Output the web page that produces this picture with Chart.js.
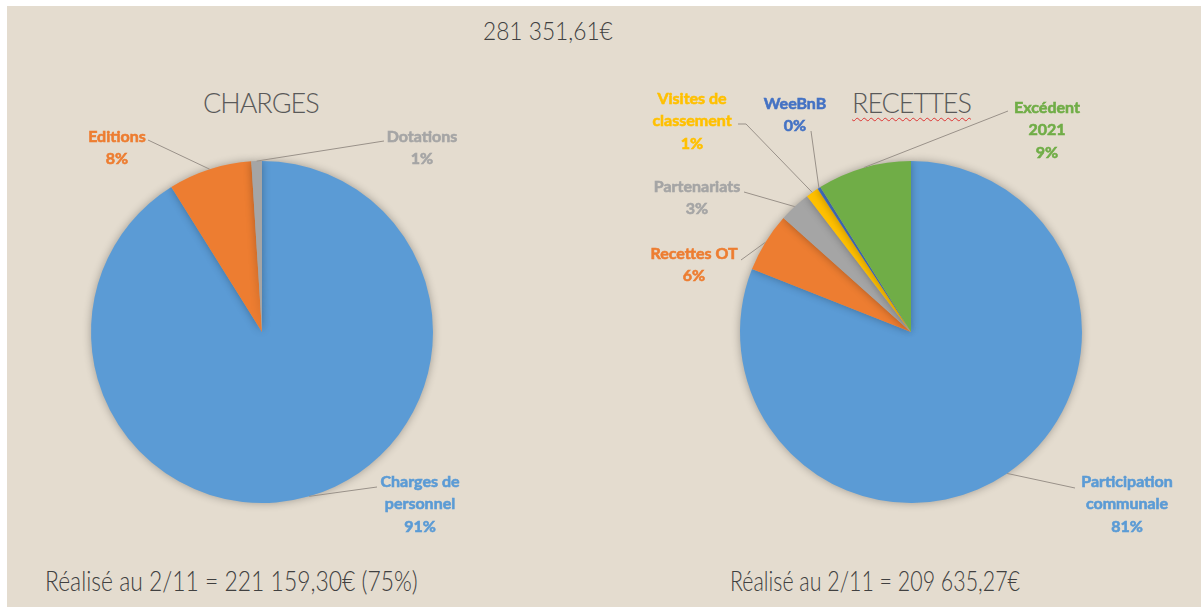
<!DOCTYPE html>
<html>
<head>
<meta charset="utf-8">
<script src="https://cdn.jsdelivr.net/npm/chart.js@4"></script>
<style>
  body { margin: 0; background: #fff; width: 1203px; height: 607px; overflow: hidden; }
  #page { position: absolute; left: 7px; top: 6px; width: 1194px; height: 601px; background: #e4dccf; }
  .txt { position: absolute; color: #404040; font-family: "Lato", "Open Sans", sans-serif; font-weight: 300; white-space: nowrap; transform-origin: left top; }
  .title { font-size: 27px; color: #595959; letter-spacing: -1px; }
  canvas { position: absolute; top: 0; }
</style>
</head>
<body>
<div id="page"></div>
<div class="txt fit" data-w="130" style="left:483px;top:15px;font-size:25px;">281 351,61€</div>
<div class="txt title" style="left:203px;top:86px;">CHARGES</div>
<div class="txt title" style="left:852px;top:86px;text-decoration:underline wavy #d33;text-decoration-thickness:1px;text-underline-offset:4px;">RECETTES</div>
<div class="txt fit" data-w="373" style="left:45px;top:564px;font-size:27px;">Réalisé au 2/11 = 221 159,30€ (75%)</div>
<div class="txt fit" data-w="290" style="left:730px;top:564px;font-size:27px;">Réalisé au 2/11 = 209 635,27€</div>
<canvas id="chargesChart" width="600" height="607" style="left:0;width:600px;height:607px;"></canvas>
<canvas id="recettesChart" width="603" height="607" style="left:600px;width:603px;height:607px;"></canvas>
<script>
// CHARGES
const chargesLabels = ["Charges de personnel", "Editions", "Dotations"];
const chargesValues = [91.1, 7.9, 1.0];
const chargesPct = ["91%", "8%", "1%"];
const chargesColors = ["#5b9bd5", "#ed7d31", "#a5a5a5"];

// RECETTES
const recettesLabels = ["Participation communale", "Recettes OT", "Partenariats", "Visites de classement", "WeeBnB", "Excédent 2021"];
const recettesValues = [81.0, 5.6, 3.0, 1.2, 0.3, 8.9];
const recettesPct = ["81%", "6%", "3%", "1%", "0%", "9%"];
const recettesColors = ["#5b9bd5", "#ed7d31", "#a5a5a5", "#ffc000", "#4472c4", "#70ad47"];

// label text lines, placement offsets from pie centre (text centre + leader anchor)
const chargesText = [["Charges de", "personnel"], ["Editions"], ["Dotations"]];
const chargesPlace = [
  { tx: 158, ty: 172, ax: 115, ay: 155 },
  { tx: -145, ty: -184, ax: -114, ay: -192 },
  { tx: 160, ty: -184, ax: 122, ay: -191 }
];
const recettesText = [["Participation", "communale"], ["Recettes OT"], ["Partenariats"], ["Visites de", "classement"], ["WeeBnB"], ["Excédent", "2021"]];
const recettesPlace = [
  { tx: 216, ty: 172, ax: 164, ay: 156 },
  { tx: -217, ty: -67, ax: -170, ay: -72 },
  { tx: -214, ty: -134, ax: -167, ay: -140 },
  { tx: -219, ty: -211, ax: -173, ay: -208, bend: 8 },
  { tx: -116, ty: -217, ax: -100, ay: -201 },
  { tx: 136, ty: -202, ax: 97, ay: -221 }
];

// squeeze the thin condensed captions to the reference width
document.querySelectorAll(".fit").forEach(el => {
  const s = Number(el.dataset.w) / el.offsetWidth;
  el.style.transform = "scaleX(" + s + ")";
});

const shadowPlugin = {
  id: "pieShadow",
  beforeDatasetsDraw(chart) {
    const ctx = chart.ctx;
    ctx.save();
    ctx.shadowColor = "rgba(0,0,0,0.3)";
    ctx.shadowBlur = 9;
  },
  afterDatasetsDraw(chart) {
    chart.ctx.restore();
  }
};

const outLabels = {
  id: "outLabels",
  afterDraw(chart, args, opts) {
    const ctx = chart.ctx;
    const arcs = chart.getDatasetMeta(0).data;
    const lineH = 22.5;
    arcs.forEach((arc, i) => {
      const p = opts.place[i];
      const mid = (arc.startAngle + arc.endAngle) / 2;
      const rx = arc.x + arc.outerRadius * Math.cos(mid);
      const ry = arc.y + arc.outerRadius * Math.sin(mid);
      // leader line
      ctx.save();
      ctx.strokeStyle = "#999189";
      ctx.lineWidth = 1;
      ctx.beginPath();
      ctx.moveTo(arc.x + p.ax, arc.y + p.ay);
      if (p.bend) ctx.lineTo(arc.x + p.ax + p.bend, arc.y + p.ay);
      ctx.lineTo(rx, ry);
      ctx.stroke();
      // text
      const lines = opts.text[i].concat([opts.pct[i]]);
      ctx.fillStyle = opts.colors[i];
      ctx.strokeStyle = opts.colors[i];
      ctx.lineWidth = 0.6;
      ctx.font = "bold 16px Lato, 'Open Sans', sans-serif";
      ctx.textAlign = "center";
      ctx.textBaseline = "middle";
      const y0 = arc.y + p.ty - (lines.length - 1) * lineH / 2;
      lines.forEach((t, k) => {
        ctx.fillText(t, arc.x + p.tx, y0 + k * lineH);
        ctx.strokeText(t, arc.x + p.tx, y0 + k * lineH);
      });
      ctx.restore();
    });
  }
};

function makePie(id, labels, values, colors, pct, text, place, pad) {
  return new Chart(document.getElementById(id), {
    type: "pie",
    data: {
      labels: labels,
      datasets: [{ data: values, backgroundColor: colors, borderWidth: 0 }]
    },
    options: {
      responsive: false,
      animation: false,
      layout: { padding: pad },
      plugins: {
        legend: { display: false },
        tooltip: { enabled: false },
        outLabels: { text: text, place: place, pct: pct, colors: colors }
      }
    },
    plugins: [shadowPlugin, outLabels]
  });
}

makePie("chargesChart", chargesLabels, chargesValues, chargesColors, chargesPct, chargesText, chargesPlace,
  { left: 91, right: 167, top: 161, bottom: 104 });
makePie("recettesChart", recettesLabels, recettesValues, recettesColors, recettesPct, recettesText, recettesPlace,
  { left: 140, right: 121, top: 161, bottom: 104 });
</script>
</body>
</html>
